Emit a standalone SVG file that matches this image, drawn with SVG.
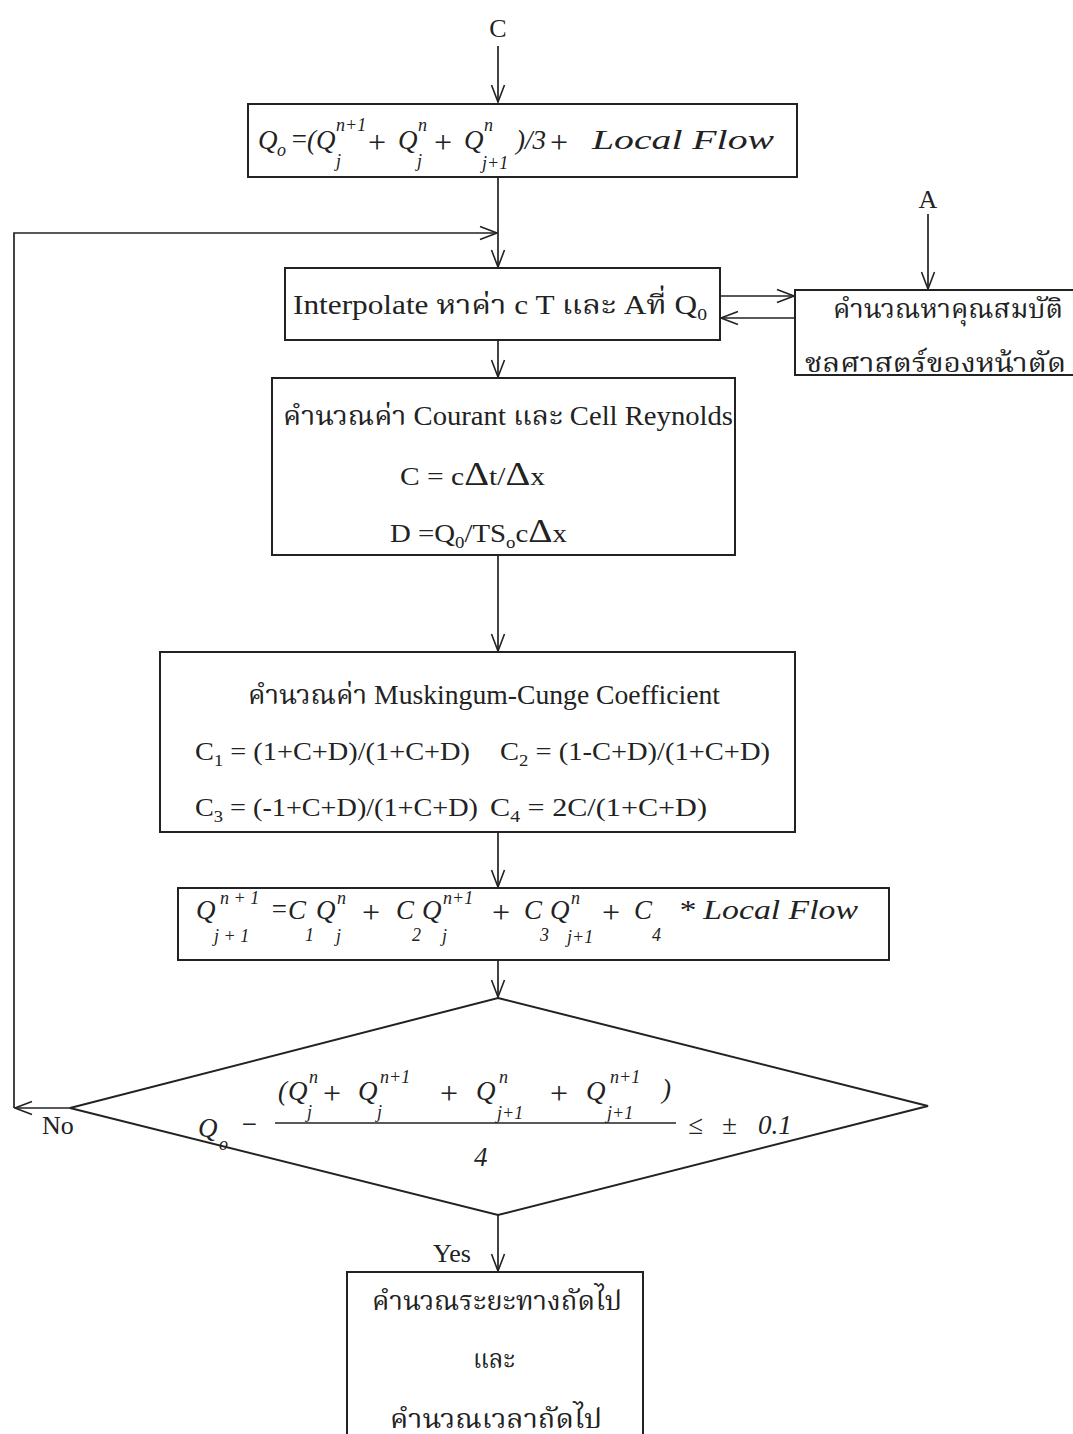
<svg xmlns="http://www.w3.org/2000/svg" width="1073" height="1434" viewBox="0 0 1073 1434">
<defs>
<marker id="arr" viewBox="0 0 20 20" refX="19" refY="10" markerWidth="20" markerHeight="20" markerUnits="userSpaceOnUse" orient="auto">
<path d="M2,3.5 L19,10 L2,16.5" fill="none" stroke="#222" stroke-width="1.6"/>
</marker>
<style>
.box{fill:#fff;stroke:#222;stroke-width:2}
.ln{fill:none;stroke:#222;stroke-width:1.7}
.t{font-family:"Liberation Serif","Noto Serif Thai","Noto Sans Thai",serif;fill:#222;font-size:26px}
.th{font-family:"Liberation Serif","Noto Serif Thai","Noto Sans Thai","DejaVu Sans",serif;fill:#222;font-size:27px}
.m{font-family:"Liberation Serif",serif;font-style:italic;fill:#222;font-size:27px}
.s{font-size:18px}
.p{font-size:32px;font-style:normal}
</style>
</defs>
<rect width="1073" height="1434" fill="#fff"/>
<g id="connectors">
<path class="ln" d="M498,46 V102" marker-end="url(#arr)"/>
<path class="ln" d="M498,177 V267" marker-end="url(#arr)"/>
<path class="ln" d="M14,1108 V233 H497" marker-end="url(#arr)"/>
<path class="ln" d="M928,214 V289" marker-end="url(#arr)"/>
<path class="ln" d="M720,296 H794" marker-end="url(#arr)"/>
<path class="ln" d="M795,318 H721" marker-end="url(#arr)"/>
<path class="ln" d="M498,340 V377" marker-end="url(#arr)"/>
<path class="ln" d="M498,555 V651" marker-end="url(#arr)"/>
<path class="ln" d="M498,832 V887" marker-end="url(#arr)"/>
<path class="ln" d="M498,960 V997" marker-end="url(#arr)"/>
<path class="ln" d="M70,1108 H15" marker-end="url(#arr)"/>
<path class="ln" d="M498,1215 V1271" marker-end="url(#arr)"/>
<text class="t" x="42" y="1134" font-size="24">No</text>
<text class="t" x="433" y="1262" font-size="24">Yes</text>
</g>
<g id="labelC"><text class="t" x="498" y="37" text-anchor="middle">C</text></g>
<g id="labelA"><text class="t" x="928" y="208" text-anchor="middle" font-size="24">A</text></g>
<g id="box1">
<rect class="box" x="248" y="104" width="549" height="73"/>
<text class="m" x="258" y="149">Q</text>
<text class="m s" x="277" y="156">o</text>
<text class="m" x="290" y="148" font-size="22">=</text>
<text class="m" x="307" y="149">(</text>
<text class="m" x="316" y="149">Q</text>
<text class="m s" x="336" y="131">n+1</text>
<text class="m s" x="336" y="167">j</text>
<text class="m p" x="368" y="153">+</text>
<text class="m" x="398" y="149">Q</text>
<text class="m s" x="418" y="131">n</text>
<text class="m s" x="417" y="167">j</text>
<text class="m p" x="434" y="153">+</text>
<text class="m" x="464" y="149">Q</text>
<text class="m s" x="484" y="131">n</text>
<text class="m s" x="482" y="169">j+1</text>
<text class="m" x="516" y="149">)/3</text>
<text class="m p" x="550" y="153">+</text>
<text class="m" x="592" y="149" font-size="24" textLength="182" lengthAdjust="spacingAndGlyphs">Local Flow</text>
</g>
<g id="interp">
<rect class="box" x="285" y="268" width="435" height="72"/>
<text class="th" x="293" y="314" textLength="414" lengthAdjust="spacingAndGlyphs">Interpolate หาค่า c  T และ Aที่ Q<tspan font-size="17" dy="6">0</tspan></text>
</g>
<g id="hydro">
<rect class="box" x="795" y="290" width="290" height="85"/>
<text class="th" x="833" y="318" textLength="230" lengthAdjust="spacingAndGlyphs">คำนวณหาคุณสมบัติ</text>
<text class="th" x="805" y="372" textLength="261" lengthAdjust="spacingAndGlyphs">ชลศาสตร์ของหน้าตัด</text>
</g>
<g id="courant">
<rect class="box" x="272" y="378" width="463" height="177"/>
<text class="th" x="283" y="425" textLength="450" lengthAdjust="spacingAndGlyphs">คำนวณค่า Courant และ Cell Reynolds</text>
<text class="t" x="400" y="485" font-size="27" textLength="145" lengthAdjust="spacingAndGlyphs">C = c<tspan font-size="34">Δ</tspan>t/<tspan font-size="34">Δ</tspan>x</text>
<text class="t" x="390" y="542" font-size="27" textLength="177" lengthAdjust="spacingAndGlyphs">D =Q<tspan font-size="17" dy="6">0</tspan><tspan dy="-6">/TS</tspan><tspan font-size="17" dy="6">o</tspan><tspan dy="-6">c</tspan><tspan font-size="34">Δ</tspan>x</text>
</g>
<g id="musk">
<rect class="box" x="160" y="652" width="635" height="180"/>
<text class="th" x="248" y="704" textLength="472" lengthAdjust="spacingAndGlyphs">คำนวณค่า Muskingum-Cunge Coefficient</text>
<text class="t" x="195" y="760" textLength="275" lengthAdjust="spacingAndGlyphs">C<tspan font-size="17" dy="6">1</tspan><tspan dy="-6"> = (1+C+D)/(1+C+D)</tspan></text>
<text class="t" x="500" y="760" textLength="270" lengthAdjust="spacingAndGlyphs">C<tspan font-size="17" dy="6">2</tspan><tspan dy="-6"> = (1-C+D)/(1+C+D)</tspan></text>
<text class="t" x="195" y="816" textLength="283" lengthAdjust="spacingAndGlyphs">C<tspan font-size="17" dy="6">3</tspan><tspan dy="-6"> = (-1+C+D)/(1+C+D)</tspan></text>
<text class="t" x="490" y="816" textLength="217" lengthAdjust="spacingAndGlyphs">C<tspan font-size="17" dy="6">4</tspan><tspan dy="-6"> = 2C/(1+C+D)</tspan></text>
</g>
<g id="update">
<rect class="box" x="178" y="888" width="711" height="72"/>
<text class="m" x="196" y="919">Q</text>
<text class="m s" x="220" y="904">n + 1</text>
<text class="m s" x="214" y="942">j + 1</text>
<text class="m" x="270" y="918" font-size="22">=</text>
<text class="m" x="288" y="919">C</text>
<text class="m s" x="305" y="941">1</text>
<text class="m" x="316" y="919">Q</text>
<text class="m s" x="337" y="904">n</text>
<text class="m s" x="336" y="942">j</text>
<text class="m p" x="362" y="923">+</text>
<text class="m" x="396" y="919">C</text>
<text class="m s" x="412" y="941">2</text>
<text class="m" x="422" y="919">Q</text>
<text class="m s" x="443" y="904">n+1</text>
<text class="m s" x="442" y="942">j</text>
<text class="m p" x="492" y="923">+</text>
<text class="m" x="524" y="919">C</text>
<text class="m s" x="540" y="941">3</text>
<text class="m" x="550" y="919">Q</text>
<text class="m s" x="571" y="904">n</text>
<text class="m s" x="567" y="943">j+1</text>
<text class="m p" x="602" y="923">+</text>
<text class="m" x="634" y="919">C</text>
<text class="m s" x="652" y="941">4</text>
<text class="m" x="678" y="919" font-size="23" textLength="180" lengthAdjust="spacingAndGlyphs">* Local Flow</text>
</g>
<g id="decision">
<polygon class="box" points="498,998 928,1106 498,1215 70,1108"/>
<text class="m" x="198" y="1137">Q</text>
<text class="m s" x="219" y="1150">o</text>
<text class="m" x="240" y="1133" font-style="normal">−</text>
<line class="ln" x1="275" y1="1123" x2="676" y2="1123"/>
<text class="m" x="278" y="1100">(</text>
<text class="m" x="288" y="1100">Q</text>
<text class="m s" x="309" y="1083">n</text>
<text class="m s" x="307" y="1118">j</text>
<text class="m p" x="323" y="1104">+</text>
<text class="m" x="358" y="1100">Q</text>
<text class="m s" x="380" y="1083">n+1</text>
<text class="m s" x="377" y="1118">j</text>
<text class="m p" x="440" y="1104">+</text>
<text class="m" x="476" y="1100">Q</text>
<text class="m s" x="499" y="1083">n</text>
<text class="m s" x="497" y="1119">j+1</text>
<text class="m p" x="550" y="1104">+</text>
<text class="m" x="586" y="1100">Q</text>
<text class="m s" x="610" y="1083">n+1</text>
<text class="m s" x="607" y="1119">j+1</text>
<text class="m" x="662" y="1098">)</text>
<text class="m" x="474" y="1166" font-size="26">4</text>
<text class="m" x="688" y="1134" font-size="30" font-style="normal">≤</text>
<text class="m" x="722" y="1134" font-size="30" font-style="normal">±</text>
<text class="m" x="758" y="1134" font-size="22">0.1</text>
</g>
<g id="final">
<rect class="box" x="347" y="1272" width="296" height="170"/>
<text class="th" x="372" y="1310" textLength="250" lengthAdjust="spacingAndGlyphs">คำนวณระยะทางถัดไป</text>
<text class="th" x="473" y="1368" textLength="42" lengthAdjust="spacingAndGlyphs">และ</text>
<text class="th" x="390" y="1428" textLength="212" lengthAdjust="spacingAndGlyphs">คำนวณเวลาถัดไป</text>
</g>
</svg>
